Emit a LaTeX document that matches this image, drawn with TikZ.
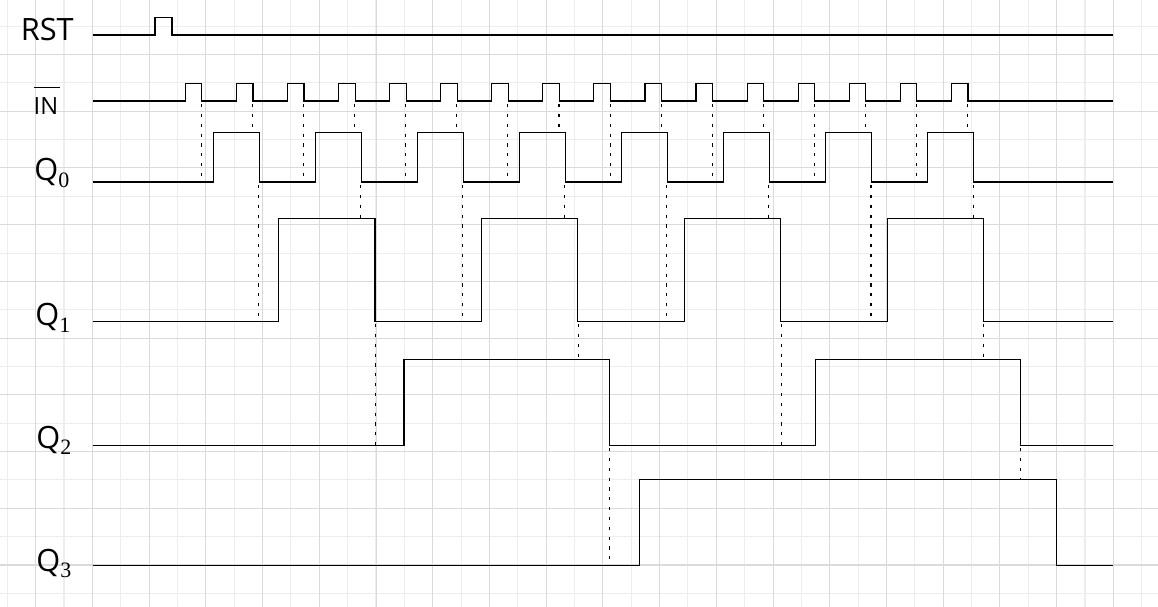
\documentclass[tikz,border=0pt]{standalone}
\usepackage{fontspec}
\setmainfont{Open Sans}
\newfontfamily\digitfont{Liberation Serif}
\definecolor{gridmajor}{HTML}{DADADA}
\definecolor{gridminor}{HTML}{EDEDED}
\tikzset{
	wave/.style={line width=0.65pt, black},
	trigger/.style={line width=0.6pt, black, dash pattern=on 1.8pt off 3.8pt},
	siglabel/.style={anchor=base west, inner sep=0pt, font=\fontsize{17.5}{20}\selectfont},
}
\newcommand{\qsub}[1]{Q\raisebox{-3.6pt}{\digitfont\fontsize{12.5}{14}\selectfont #1}}
\begin{document}
\begin{tikzpicture}[x=0.02cm, y=-0.02cm]
		\useasboundingbox (0,0) rectangle (1158,607);
		\fill[white] (0,0) rectangle (1158,607);

		% grid
		\foreach \k in {0,...,40}
			\draw[gridminor, line width=0.6pt] ({7.3+28.36*\k},0) -- ++(0,607);
		\foreach \k in {1,...,21}
			\draw[gridminor, line width=0.6pt] (0,{-2.2+28.36*\k}) -- ++(1158,0);
		\foreach \k in {0,...,19}
			\draw[gridmajor, line width=0.6pt] ({35.7+56.72*\k},0) -- ++(0,607);
		\foreach \k in {1,...,10}
			\draw[gridmajor, line width=0.6pt] (0,{-2.2+56.72*\k}) -- ++(1158,0);

		% waveforms
		\draw[wave] (92.7,35) -- (155,35) |- (172,17.3) |- (1113,35);
		\draw[wave] (92.7,101) \foreach \k in {0,...,15} {
			-- ({185.3+51.07*\k},101) -- ++(0,-17.7) -- ++(16.6,0) -- ++(0,17.7)} -- (1113,101);
		\draw[wave] (92.7,182) \foreach \k in {0,...,7} {
			-- ({213.3+102.06*\k},182) -- ++(0,-49.3) -- ++(46,0) -- ++(0,49.3)} -- (1113,182);
		\draw[wave] (92.7,321.3) \foreach \k in {0,...,3} {
			-- ({278.7+202.8*\k},321.3) -- ++(0,-103) -- ++(96.3,0) -- ++(0,103)} -- (1113,321.3);
		\draw[wave] (92.7,445.3) -- (404,445.3) |- (609.7,359.3) |- (815.3,445.3) |- (1020.3,359.3) |- (1113,445.3);
		\draw[wave] (92.7,565.3) -- (639.3,565.3) |- (1056.7,479.7) |- (1113,565.3);

		% trigger edges
		\foreach \k [evaluate=\k as \ye using {182-49.3*mod(\k,2)}] in {0,...,15}
			\draw[trigger] ({201.5+51.07*\k},104) -- ({201.5+51.07*\k},\ye);
		\foreach \k [evaluate=\k as \ye using {321.3-103*mod(\k,2)}] in {0,...,7}
			\draw[trigger] ({258.8+102.03*\k},185) -- ({258.8+102.03*\k},\ye);
		\foreach \k [evaluate=\k as \ye using {445.3-86*mod(\k,2)}] in {0,...,3}
			\draw[trigger] ({375.5+202.8*\k},324) -- ({375.5+202.8*\k},\ye);
		\draw[trigger] (609.7,448) -- (609.7,565.3);
		\draw[trigger] (1020.3,448) -- (1020.3,479.7);

		% labels
		\node[siglabel] (rst) at (20.5,40.7) {RST};
		\node[siglabel, font=\fontsize{13.5}{16}\selectfont] (in) at (33.3,114.3) {IN};
		\draw[line width=0.8pt] (34.3,87.3) -- (60,87.3);
		\node[siglabel] (q0) at (34,181) {\qsub{0}};
		\node[siglabel] (q1) at (35,326) {\qsub{1}};
		\node[siglabel] (q2) at (36,448) {\qsub{2}};
		\node[siglabel] (q3) at (36,571) {\qsub{3}};
	\end{tikzpicture}
\end{document}
